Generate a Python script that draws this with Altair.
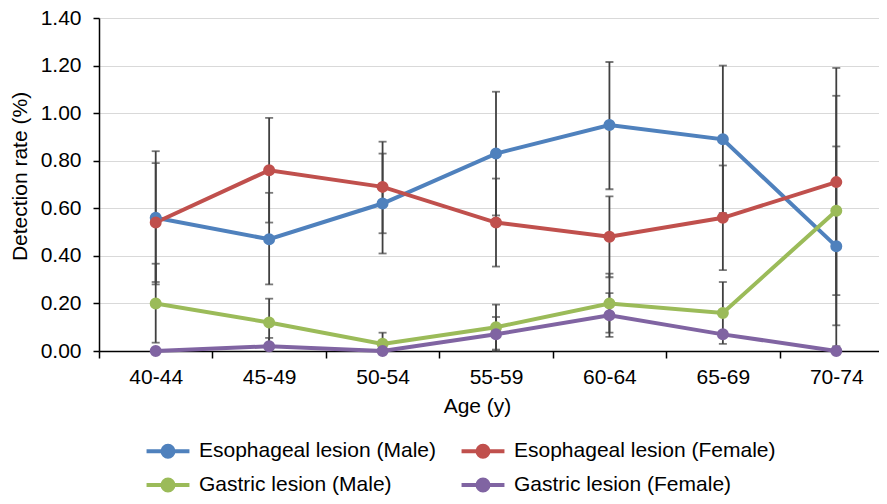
import altair as alt
import pandas as pd

ages = ["40-44", "45-49", "50-54", "55-59", "60-64", "65-69", "70-74"]
series_names = ["Esophageal lesion (Male)", "Esophageal lesion (Female)",
                "Gastric lesion (Male)", "Gastric lesion (Female)"]
colors = ["#4F81BD", "#C0504D", "#9BBB59", "#8064A2"]

eso_male = [0.56, 0.47, 0.62, 0.83, 0.95, 0.89, 0.44]
eso_male_lo = [0.28, 0.28, 0.41, 0.57, 0.68, 0.58, 0.02]
eso_male_hi = [0.84, 0.665, 0.83, 1.09, 1.215, 1.20, 0.86]

eso_female = [0.54, 0.76, 0.69, 0.54, 0.48, 0.56, 0.71]
eso_female_lo = [0.29, 0.54, 0.495, 0.355, 0.31, 0.34, 0.235]
eso_female_hi = [0.79, 0.98, 0.88, 0.725, 0.65, 0.78, 1.19]

gas_male = [0.20, 0.12, 0.03, 0.10, 0.20, 0.16, 0.59]
gas_male_lo = [0.035, 0.02, 0.0, 0.006, 0.077, 0.03, 0.108]
gas_male_hi = [0.367, 0.22, 0.077, 0.195, 0.325, 0.29, 1.073]

gas_female = [0.00, 0.02, 0.00, 0.07, 0.15, 0.07, 0.00]
gas_female_lo = [None, 0.0, None, 0.0, 0.059, None, None]
gas_female_hi = [None, 0.055, None, 0.143, 0.243, None, None]

values = [eso_male, eso_female, gas_male, gas_female]
los = [eso_male_lo, eso_female_lo, gas_male_lo, gas_female_lo]
his = [eso_male_hi, eso_female_hi, gas_male_hi, gas_female_hi]

rows = []
for s, v, lo, hi in zip(series_names, values, los, his):
    for a, vv, l, h in zip(ages, v, lo, hi):
        rows.append({"age": a, "series": s, "value": vv, "lo": l, "hi": h})
df = pd.DataFrame(rows)
err = df.dropna(subset=["lo", "hi"])

FONT = "Liberation Sans"
PLOT_W = 780
PLOT_H = 333

x_enc = alt.X(
    "age:N",
    sort=ages,
    scale=alt.Scale(domain=ages, range=[0, 794], paddingInner=0, paddingOuter=0),
    axis=alt.Axis(
        title="Age (y)",
        labelAngle=0,
        tickBand="extent",
        tickSize=7,
        tickColor="#000000",
        tickWidth=1.5,
        domainColor="#000000",
        domainWidth=1.5,
        labelPadding=8,
        labelFontSize=21,
        labelFont=FONT,
        labelColor="#000000",
        titleFontSize=21,
        titleFont=FONT,
        titleFontWeight="normal",
        titleColor="#000000",
        titleX=378,
        titleY=55,
        titleAlign="center",
        titleBaseline="middle",
        grid=False,
    ),
)

y_scale = alt.Scale(domain=[0, 1.4], nice=False)
y_axis = alt.Axis(
    title="Detection rate (%)",
    values=[0, 0.2, 0.4, 0.6, 0.8, 1.0, 1.2, 1.4],
    format=".2f",
    tickSize=6,
    tickColor="#000000",
    tickWidth=1.5,
    domainColor="#000000",
    domainWidth=1.5,
    labelPadding=12,
    labelFontSize=21,
    labelFont=FONT,
    labelColor="#000000",
    grid=True,
    gridColor="#d9d9d9",
    gridWidth=1.2,
    titleFontSize=21,
    titleFont=FONT,
    titleFontWeight="normal",
    titleColor="#000000",
    titleX=-79,
    titleY=158,
    titleAlign="center",
    titleBaseline="middle",
    titleAngle=270,
)

color_scale = alt.Scale(domain=series_names, range=colors)

legend_symbol = ("M-1.95,0L1.95,0"
                 "M-0.5,0A0.5,0.5,0,1,1,0.5,0A0.5,0.5,0,1,1,-0.5,0Z")

legend = alt.Legend(
    title=None,
    orient="none",
    legendX=56,
    legendY=420,
    direction="horizontal",
    columns=2,
    symbolType=legend_symbol,
    symbolSize=484,
    symbolStrokeWidth=4,
    labelOffset=18,
    labelFontSize=21,
    labelFont=FONT,
    labelColor="#000000",
    columnPadding=17,
    rowPadding=6,
    labelLimit=400,
)

rules = alt.Chart(err).mark_rule(color="#404040", strokeWidth=1.8).encode(
    x=x_enc,
    y=alt.Y("lo:Q", scale=y_scale, axis=y_axis),
    y2="hi:Q",
)
caps_lo = alt.Chart(err).mark_tick(color="#404040", thickness=1.8, size=8).encode(
    x=alt.X("age:N", sort=ages),
    y=alt.Y("lo:Q"),
)
caps_hi = alt.Chart(err).mark_tick(color="#404040", thickness=1.8, size=8).encode(
    x=alt.X("age:N", sort=ages),
    y=alt.Y("hi:Q"),
)

lines = alt.Chart(df).mark_line(strokeWidth=4).encode(
    x=alt.X("age:N", sort=ages),
    y=alt.Y("value:Q"),
    stroke=alt.Stroke("series:N", scale=color_scale, legend=legend),
    detail="series:N",
    order=alt.Order("age:N"),
)
points = alt.Chart(df).mark_point(filled=True, size=100, opacity=1).encode(
    x=alt.X("age:N", sort=ages),
    y=alt.Y("value:Q"),
    fill=alt.Fill("series:N", scale=color_scale, legend=legend),
    stroke=alt.Stroke("series:N", scale=color_scale, legend=legend),
)

chart = alt.layer(rules, caps_lo, caps_hi, lines, points).properties(
    width=PLOT_W,
    height=PLOT_H,
    autosize=alt.AutoSizeParams(type="none"),
    padding={"left": 91, "top": 10, "right": 0, "bottom": 145},
).configure_view(stroke=None).configure(background="white")

chart.save("out.html", embed_options={"renderer": "svg", "actions": False})
